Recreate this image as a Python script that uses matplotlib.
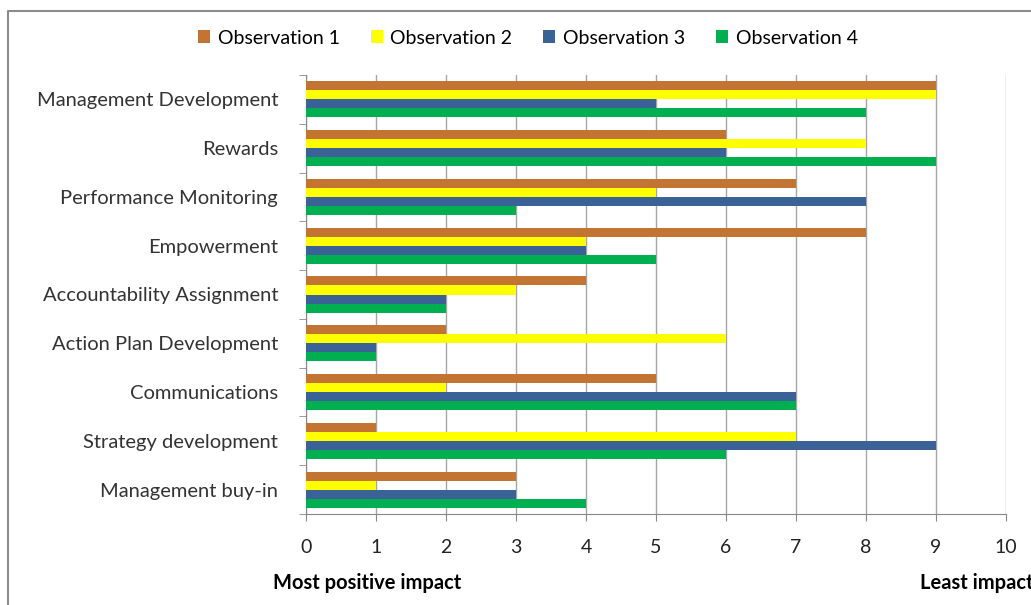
import matplotlib.pyplot as plt
import numpy as np
from matplotlib.lines import Line2D

plt.rcParams['font.family'] = ['Lato', 'DejaVu Sans']

categories = ['Management Development', 'Rewards', 'Performance Monitoring',
              'Empowerment', 'Accountability Assignment', 'Action Plan Development',
              'Communications', 'Strategy development', 'Management buy-in']
obs1 = [9, 6, 7, 8, 4, 2, 5, 1, 3]
obs2 = [9, 8, 5, 4, 3, 6, 2, 7, 1]
obs3 = [5, 6, 8, 4, 2, 1, 7, 9, 3]
obs4 = [8, 9, 3, 5, 2, 1, 7, 6, 4]
series_names = ['Observation 1', 'Observation 2', 'Observation 3', 'Observation 4']
colors = ['#C47432', '#FFFF00', '#3B6296', '#00B050']
x_ticks = list(range(0, 11))

fig = plt.figure(figsize=(10.31, 6.05), dpi=100)
ax = fig.add_axes([306 / 1031, 1 - 514 / 605, 700 / 1031, 439 / 605])

y = np.arange(len(categories))
h = 0.185
for k, (vals, name, c) in enumerate(zip([obs1, obs2, obs3, obs4], series_names, colors)):
    ax.barh(y + (k - 1.5) * h, vals, height=h, color=c, label=name, zorder=3)

ax.set_xlim(0, 10)
ax.set_ylim(len(categories) - 0.5, -0.5)
ax.set_xticks(x_ticks)
ax.set_yticks(y)
ax.set_yticklabels(categories, fontsize=14.5, color='#333333')
ax.set_yticks(np.arange(-0.5, len(categories), 1), minor=True)
ax.tick_params(axis='y', which='major', length=0, pad=20)
ax.tick_params(axis='y', which='minor', length=5, color='#888888', direction='out')
ax.tick_params(axis='x', length=5, color='#888888', labelsize=14, pad=13, labelcolor='#222222')
ax.xaxis.grid(True, color='#A6A6A6', linewidth=1, zorder=0)
for s in ['top', 'right']:
    ax.spines[s].set_visible(False)
for s in ['left', 'bottom']:
    ax.spines[s].set_color('#888888')

fig.legend(*ax.get_legend_handles_labels(), loc='center', ncol=4,
           bbox_to_anchor=(528 / 1031, 1 - 38 / 605), frameon=False,
           fontsize=14, handlelength=0.6, handleheight=0.6, handletextpad=0.4,
           columnspacing=1.6)

fig.text(273 / 1031, 1 - 583 / 605, 'Most positive impact', fontsize=14.5,
         fontweight='bold', va='center', ha='left')
fig.text(920 / 1031, 1 - 583 / 605, 'Least impact', fontsize=14.5,
         fontweight='bold', va='center', ha='left')

# outer chart frame (cut off at right and bottom)
fig.add_artist(Line2D([8 / 1031, 8 / 1031, 1.0], [0, 1 - 11 / 605, 1 - 11 / 605],
                      transform=fig.transFigure, color='#8C8C8C', linewidth=1.5))

fig.savefig('out.png', dpi=100)
